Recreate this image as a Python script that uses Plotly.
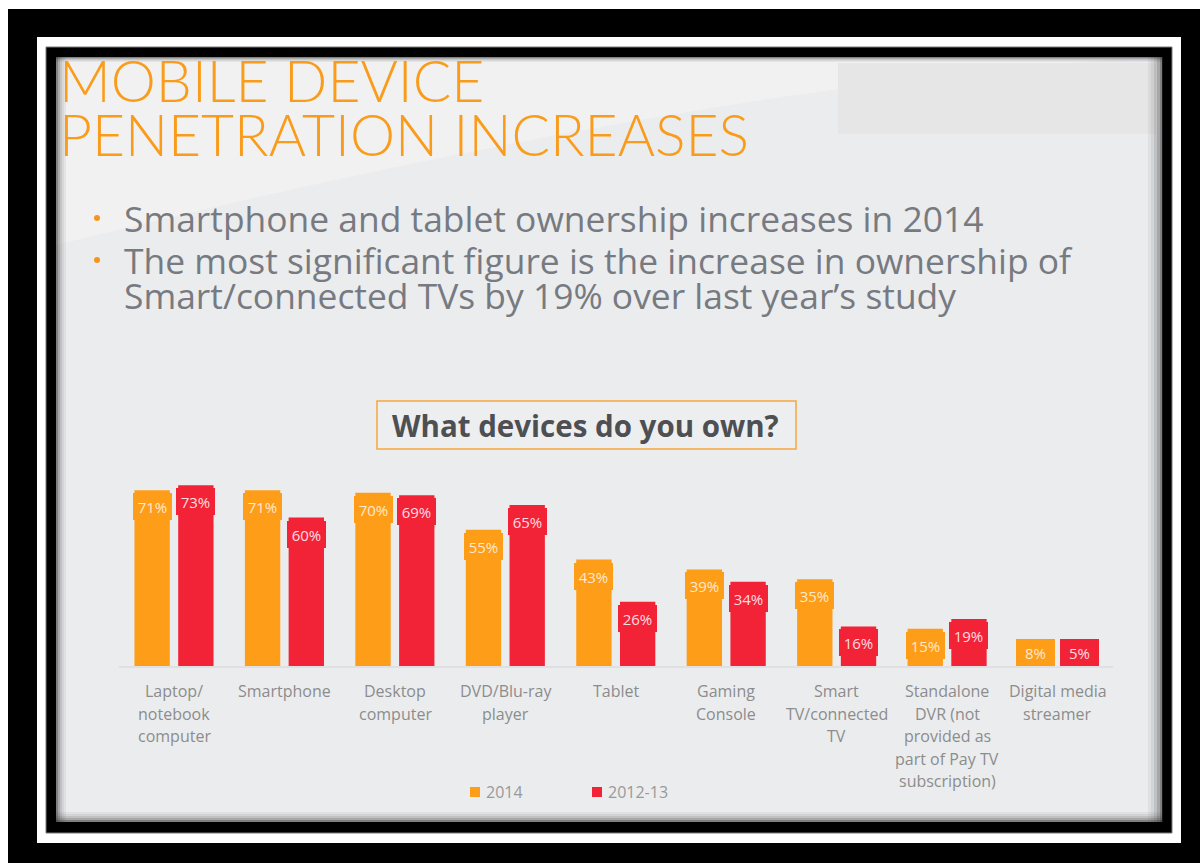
import plotly.graph_objects as go

# ---- data -------------------------------------------------------------
categories = [
    "Laptop/<br>notebook<br>computer",
    "Smartphone",
    "Desktop<br>computer",
    "DVD/Blu-ray<br>player",
    "Tablet",
    "Gaming<br>Console",
    "Smart<br>TV/connected<br>TV",
    "Standalone<br>DVR (not<br>provided as<br>part of Pay TV<br>subscription)",
    "Digital media<br>streamer",
]
series_names = ["2014", "2012-13"]
values_2014 = [71, 71, 70, 55, 43, 39, 35, 15, 8]
values_2012_13 = [73, 60, 69, 65, 26, 34, 16, 19, 5]

title_lines = ["MOBILE DEVICE", "PENETRATION INCREASES"]
bullet_lines = [
    ("Smartphone and tablet ownership increases in 2014", True),
    ("The most significant figure is the increase in ownership of", True),
    ("Smart/connected TVs by 19% over last year\u2019s study", False),
]
chart_title = "What devices do you own?"

# ---- styling ----------------------------------------------------------
W, H = 1200, 863
ORANGE = "#FE9D17"
RED = "#F22336"
SLIDE_BG = "#EBECEE"
TEXT_GRAY = "#777A80"
LABEL_GRAY = "#8C8C8C"
BODY_FONT = "Open Sans"

# plot area in pixels
PLOT_L, PLOT_R, PLOT_T, PLOT_B = 119, 1113, 468, 666
Y_MAX = 80
BAR_W = 0.32
OFFSETS = [-0.36, 0.036]


def fx(x):
    return x / W


def fy(y):
    return 1 - y / H


def rect(x0, y0, x1, y1, fill, line=None, lw=0, layer="below"):
    return dict(type="rect", xref="paper", yref="paper",
                x0=fx(x0), x1=fx(x1), y0=fy(y1), y1=fy(y0),
                fillcolor=fill, layer=layer,
                line=dict(color=line or fill, width=lw))


fig = go.Figure()

colors = [ORANGE, RED]
for name, vals, color, off in zip(series_names, [values_2014, values_2012_13], colors, OFFSETS):
    fig.add_trace(go.Bar(
        x=list(range(len(categories))), y=vals, name=name,
        width=BAR_W, offset=off, marker=dict(color=color, line=dict(width=0)),
        showlegend=False, hoverinfo="skip",
    ))

shapes = []
# frame: black / white / black borders around the slide
shapes.append(rect(8, 9, 1200, 863, "#000000"))
shapes.append(rect(37, 37, 1181, 843, "#FFFFFF"))
shapes.append(rect(46, 47, 1172, 833, "#000000", line="#7A7A7A", lw=1))
shapes.append(rect(56, 57, 1162, 822, SLIDE_BG))

# light sweep across the upper part of the slide
path = "M {:.5f},{:.5f} L {:.5f},{:.5f} L {:.5f},{:.5f} Q {:.5f},{:.5f} {:.5f},{:.5f} Z".format(
    fx(56), fy(245), fx(56), fy(57), fx(1150), fy(57), fx(700), fy(85), fx(56), fy(245))
shapes.append(dict(type="path", xref="paper", yref="paper", path=path,
                   fillcolor="#F1F1F2", line=dict(width=0), layer="below"))
# grey panel top right
shapes.append(rect(838, 63, 1156, 134, "#E6E6E6"))

# inner shadow along slide edges
for k, op in enumerate([0.55, 0.35, 0.22, 0.12, 0.06]):
    c = "rgba(40,40,40,{})".format(op)
    shapes.append(rect(56 + k * 2, 57, 58 + k * 2, 822, c))
    shapes.append(rect(1160 - k * 3, 57, 1163 - k * 3, 822, c))
    shapes.append(rect(56, 820 - k * 2, 1162, 822 - k * 2, c))
    shapes.append(rect(56, 57 + k * 1, 1162, 58 + k * 1, c))

# chart title box
shapes.append(rect(377, 401, 796, 449, "#EDEEF0", line="#F9A53C", lw=1.5))
# baseline
shapes.append(dict(type="line", xref="paper", yref="paper",
                   x0=fx(PLOT_L), x1=fx(PLOT_R), y0=fy(PLOT_B + 1), y1=fy(PLOT_B + 1),
                   line=dict(color="#DCDDDF", width=1.5), layer="below"))

annotations = []
# slide title
for line_text, base in zip(title_lines, [104, 158]):
    annotations.append(dict(
        text=line_text, xref="paper", yref="paper", x=fx(57), y=fy(base + 12),
        xanchor="left", yanchor="bottom", showarrow=False,
        font=dict(family="Lato", size=57, color="#FA9C1B", weight=300)))

# bullets
for (txt, has_bullet), base in zip(bullet_lines, [230, 272, 307]):
    annotations.append(dict(
        text=txt, xref="paper", yref="paper", x=fx(122), y=fy(base - 12),
        xanchor="left", yanchor="middle", showarrow=False,
        font=dict(family=BODY_FONT, size=35.4, color=TEXT_GRAY)))
    if has_bullet:
        cy = base - 12
        shapes.append(dict(type="circle", xref="paper", yref="paper",
                           x0=fx(94), x1=fx(100), y0=fy(cy + 3), y1=fy(cy - 3),
                           fillcolor="#F7941D", line=dict(width=0), layer="above"))

# chart title
annotations.append(dict(
    text="<b>" + chart_title + "</b>", xref="paper", yref="paper",
    x=fx(585), y=fy(425), xanchor="center", yanchor="middle", showarrow=False,
    font=dict(family=BODY_FONT, size=29.5, color="#4E4F53")))

# value labels sitting at the top of each bar
px_per_unit = (PLOT_B - PLOT_T) / Y_MAX
min_label_val = 30 / px_per_unit
label_text_colors = ["#FFE9CF", "#FFDDE1"]
for vals, color, off, tc in zip([values_2014, values_2012_13], colors, OFFSETS, label_text_colors):
    for i, v in enumerate(vals):
        annotations.append(dict(
            text="{}%".format(v), xref="x", yref="y",
            x=i + off + BAR_W / 2, y=max(v, min_label_val), yshift=-3,
            xanchor="center", yanchor="top", showarrow=False,
            width=39, height=27, bgcolor=color, borderpad=0, borderwidth=0,
            font=dict(family=BODY_FONT, size=15, color=tc)))

# category labels under the axis
for i, cat in enumerate(categories):
    for j, part in enumerate(cat.split("<br>")):
        annotations.append(dict(
            text=part, xref="x", yref="paper", x=i, y=fy(691 + j * 22.6),
            xanchor="center", yanchor="middle", showarrow=False,
            font=dict(family=BODY_FONT, size=16, color=LABEL_GRAY)))

# legend
for name, color, sx in zip(series_names, colors, [470, 592]):
    shapes.append(rect(sx, 787, sx + 10, 797, color, layer="above"))
    annotations.append(dict(
        text=name, xref="paper", yref="paper", x=fx(sx + 14), y=fy(792),
        xanchor="left", yanchor="middle", showarrow=False,
        font=dict(family=BODY_FONT, size=16, color="#999999")))

fig.update_layout(
    width=W, height=H,
    margin=dict(l=0, r=0, t=0, b=0),
    paper_bgcolor="#FFFFFF",
    plot_bgcolor="rgba(0,0,0,0)",
    barmode="overlay",
    showlegend=False,
    shapes=shapes,
    annotations=annotations,
    xaxis=dict(domain=[fx(PLOT_L), fx(PLOT_R)], range=[-0.5, 8.5],
               showticklabels=False, showgrid=False, zeroline=False, showline=False,
               fixedrange=True),
    yaxis=dict(domain=[fy(PLOT_B), fy(PLOT_T)], range=[0, Y_MAX], visible=False,
               fixedrange=True),
)

fig.write_html("out.html")
